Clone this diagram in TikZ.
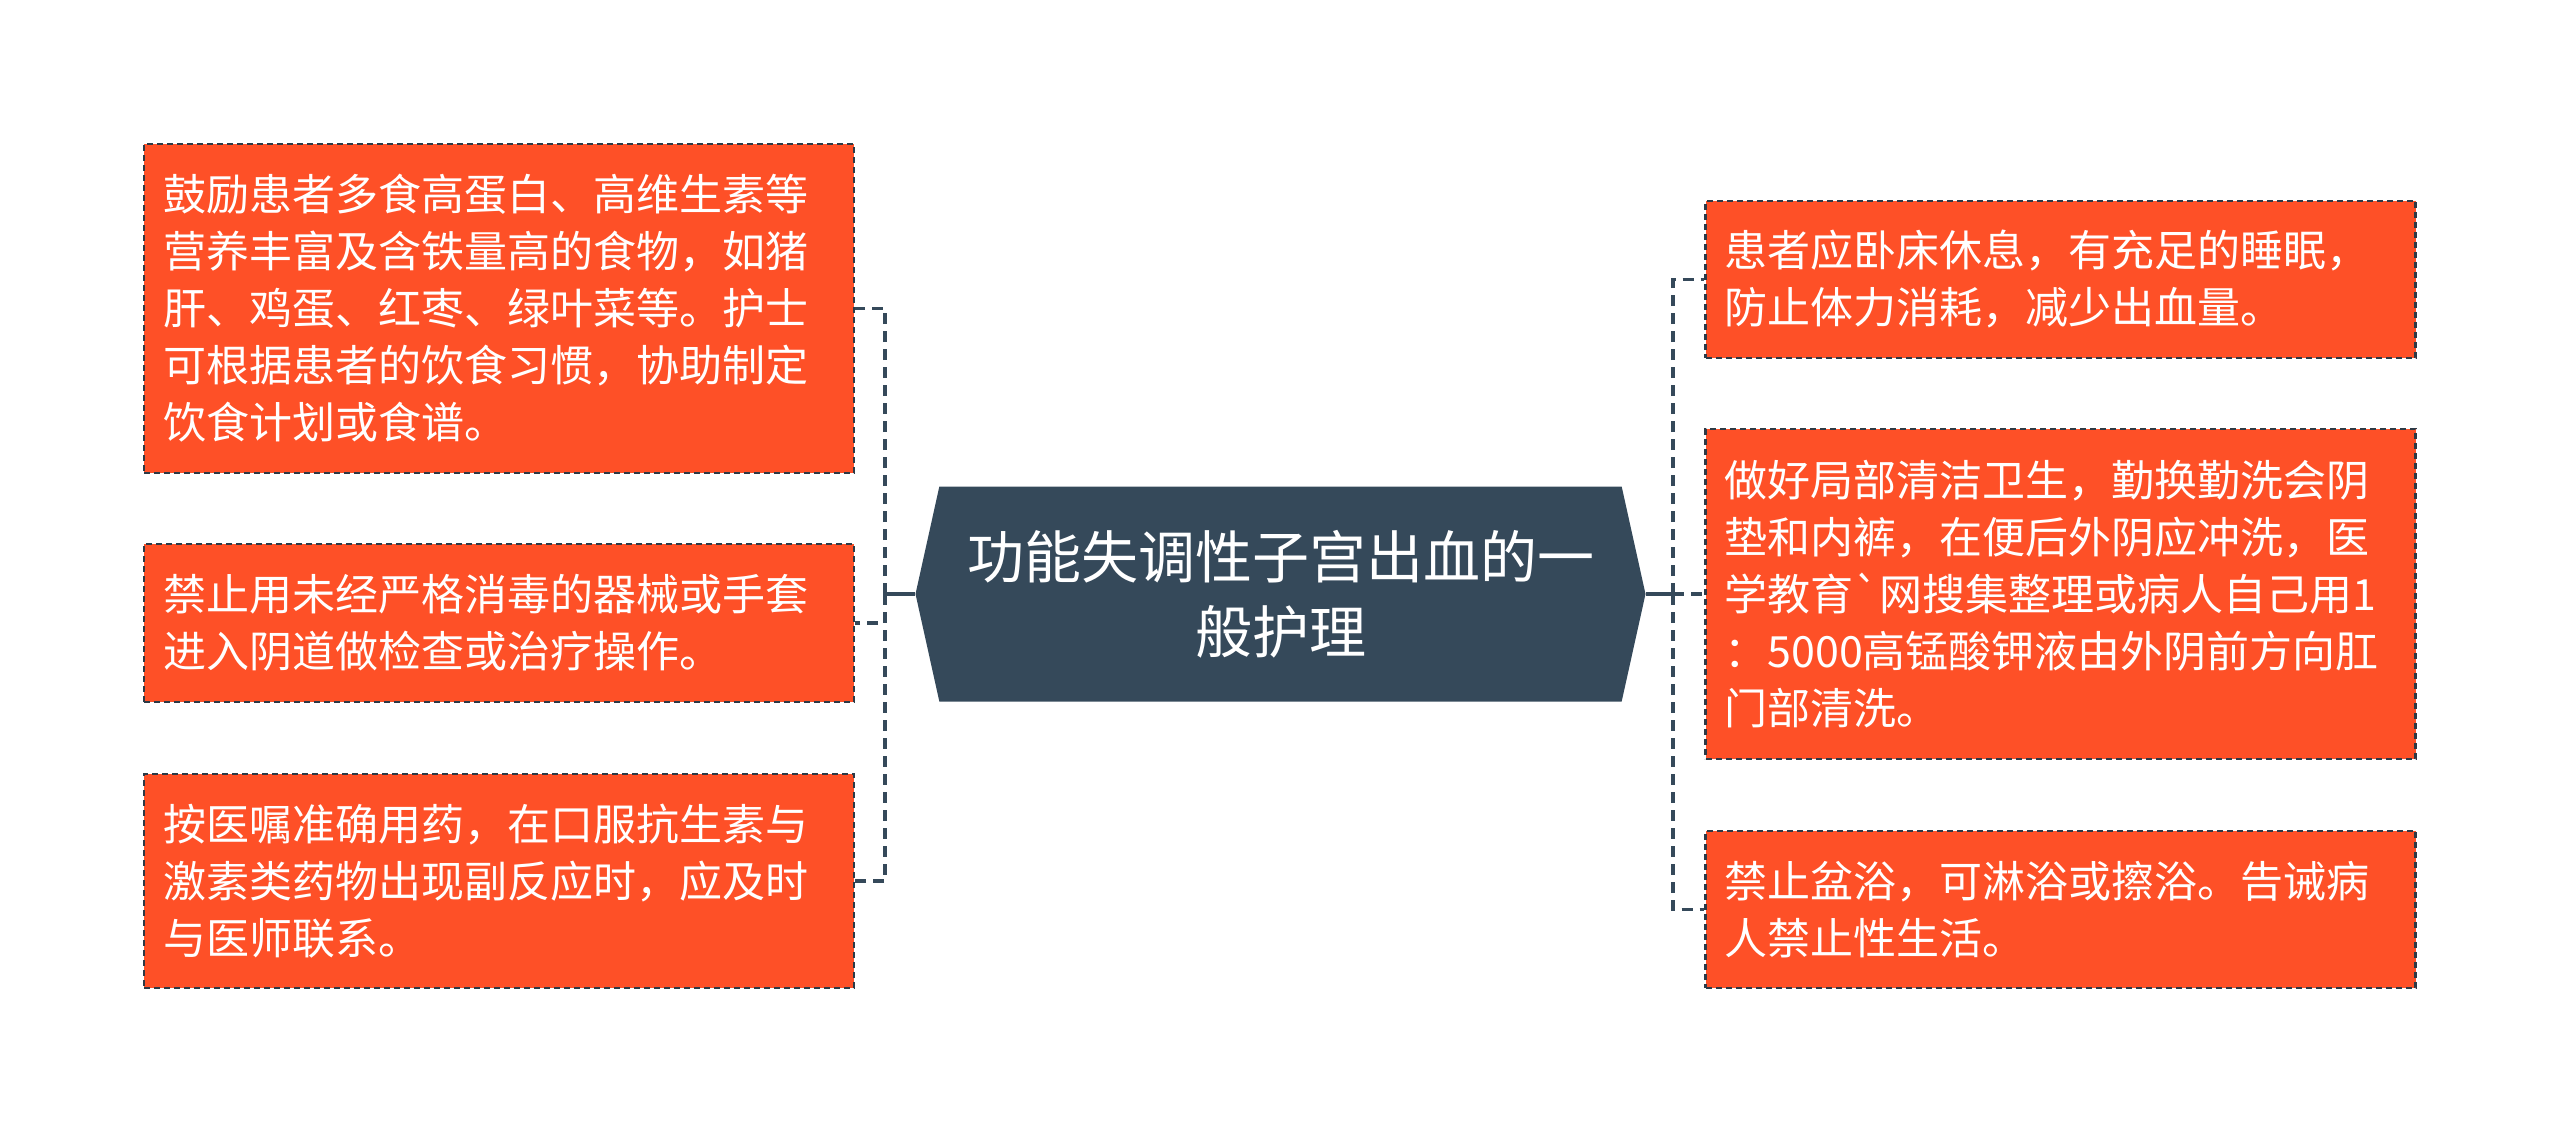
\documentclass[tikz,border=0pt]{standalone}
\usepackage{fontspec}
\setmainfont{Noto Sans CJK SC}
\newfontfamily\rawfont{Noto Sans CJK SC}
\usetikzlibrary{shapes.symbols}
\definecolor{boxred}{RGB}{254,80,39}
\definecolor{slate}{RGB}{53,73,90}
\definecolor{rim}{RGB}{45,58,70}

\begin{document}
\begin{tikzpicture}[x=0.5pt,y=-0.5pt,
        tip/.style={rectangle, fill=boxred, draw=rim, line width=1.2pt, dash pattern=on 3pt off 2pt,
            text=white, align=left, text width=336pt, inner xsep=9.5pt, inner ysep=0pt,
            font=\fontsize{21.5}{28.5}\selectfont},
        hub/.style={signal, signal to=west and east, signal pointer angle=155, fill=slate,
            text=white, align=center, minimum width=365pt, minimum height=107.5pt, inner sep=0pt,
            font=\fontsize{28.5}{37.5}\selectfont},
        link/.style={draw=slate, line width=1.8pt},
        dlink/.style={link, dash pattern=on 5.5pt off 3.5pt}]
        \newcommand{\lx}{499}
        \newcommand{\rx}{2060.5}
        \useasboundingbox (0,0) rectangle (2560,1132);

        \node[hub] (ctr) at (1280.5,594) {功能失调性子宫出血的一\\般护理}; %center

        \node[tip, minimum height=164.5pt] (diet) at (\lx,308.5) {鼓励患者多食高蛋白、高维生素等\\营养丰富及含铁量高的食物，如猪\\肝、鸡蛋、红枣、绿叶菜等。护士\\可根据患者的饮食习惯，协助制定\\饮食计划或食谱。}; %left
        \node[tip, minimum height=79pt] (tools) at (\lx,623) {禁止用未经严格消毒的器械或手套\\进入阴道做检查或治疗操作。};
        \node[tip, minimum height=107pt] (drug) at (\lx,881) {按医嘱准确用药，在口服抗生素与\\激素类药物出现副反应时，应及时\\与医师联系。};

        \node[tip, minimum height=78.5pt] (rest) at (\rx,279.5) {患者应卧床休息，有充足的睡眠，\\防止体力消耗，减少出血量。}; %right
        \node[tip, minimum height=165pt] (clean) at (\rx,594) {做好局部清洁卫生，勤换勤洗会阴\\垫和内裤，在便后外阴应冲洗，医\\学教育{\rawfont `}网搜集整理或病人自己用1\\：5000高锰酸钾液由外阴前方向肛\\门部清洗。};
        \node[tip, minimum height=78.5pt] (bath) at (\rx,909.5) {禁止盆浴，可淋浴或擦浴。告诫病\\人禁止性生活。};

        \coordinate (lbus) at (885,594);
        \coordinate (rbus) at (1673,594);

        \draw[link] (ctr.west) -- (lbus);
        \draw[dlink] (lbus) |- (diet.east);
        \draw[dlink] (lbus) |- (tools.east);
        \draw[dlink] (lbus) |- (drug.east);

        \draw[link] (ctr.east) -- (rbus);
        \draw[dlink] (rbus) |- (rest.west);
        \draw[dlink] (rbus) |- (clean.west);
        \draw[dlink] (rbus) |- (bath.west);
    \end{tikzpicture}
\end{document}
